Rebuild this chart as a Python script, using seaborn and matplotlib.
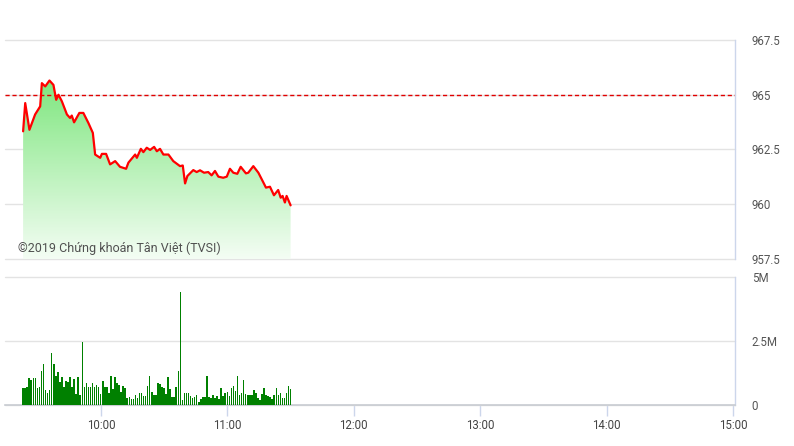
import numpy as np
import matplotlib
matplotlib.use("Agg")
import matplotlib.pyplot as plt
import seaborn as sns
import pandas as pd

# ---------------- data ----------------
# price: minutes since 09:00
price_minutes = [23.0, 24.0, 26.0, 28.7, 31.1, 31.9, 33.5, 35.5, 37.4, 38.7, 39.8, 41.4,
                 43.8, 45.3, 46.1, 47.2, 49.7, 51.6, 54.0, 56.1, 57.2, 59.6, 60.4, 62.4,
                 64.3, 66.7, 69.0, 71.9, 73.0, 76.2, 77.0, 78.9, 80.1, 81.7, 83.3, 85.2,
                 86.5, 88.0, 89.6, 92.0, 94.3, 97.5, 98.8, 99.9, 101.0, 103.8, 105.4, 107.0,
                 108.9, 110.9, 112.5, 114.1, 115.7, 118.0, 119.7, 121.2, 122.8, 124.7, 126.3,
                 128.8, 129.9, 132.3, 134.7, 136.3, 138.3, 140.2, 142.1, 144.1, 145.3, 146.2,
                 147.3, 148.1, 150.0]
price_values = [963.33, 964.62, 963.40, 964.10, 964.47, 965.53, 965.38, 965.65, 965.45, 964.77,
                965.00, 964.70, 964.10, 963.94, 964.05, 963.74, 964.17, 964.17, 963.71, 963.26,
                962.27, 962.12, 962.30, 962.30, 961.82, 961.97, 961.71, 961.62, 961.90, 962.27,
                962.12, 962.53, 962.38, 962.58, 962.48, 962.62, 962.42, 962.53, 962.27, 962.27,
                961.97, 961.74, 961.77, 960.95, 961.29, 961.56, 961.47, 961.55, 961.44, 961.47,
                961.32, 961.52, 961.26, 961.21, 961.26, 961.62, 961.44, 961.39, 961.71, 961.41,
                961.44, 961.74, 961.44, 961.14, 960.76, 960.80, 960.41, 960.65, 960.30, 960.38,
                960.08, 960.38, 959.95]
reference_price = 965.0

# volume (millions), one bar per minute 09:23 -> 11:30
volume_m = [0.68, 0.68, 0.72, 1.07, 0.98, 1.07, 1.07, 0.65, 0.72, 1.33, 1.60, 0.59, 0.48, 0.59,
            2.04, 1.60, 1.13, 1.30, 0.91, 1.11, 0.72, 0.94, 0.91, 1.11, 0.72, 1.00, 0.43, 1.11,
            0.39, 2.47, 0.72, 0.87, 0.72, 0.72, 0.85, 0.72, 0.78, 0.72, 0.43, 0.95, 0.72, 0.72,
            0.48, 1.13, 0.63, 1.11, 0.85, 0.78, 0.52, 0.74, 0.65, 0.26, 0.30, 0.22, 0.22, 0.39,
            0.29, 0.48, 0.48, 0.35, 0.35, 0.74, 1.13, 0.52, 0.39, 0.39, 0.85, 0.82, 0.69, 0.65,
            0.43, 1.11, 0.61, 0.30, 0.30, 0.72, 1.34, 4.43, 0.20, 0.46, 0.48, 0.46, 0.35, 0.26,
            0.30, 0.39, 0.13, 0.22, 0.30, 0.30, 1.13, 0.30, 0.26, 0.39, 0.26, 0.35, 0.22, 0.65,
            0.35, 0.48, 0.52, 0.35, 0.65, 0.74, 0.56, 1.13, 0.39, 0.48, 0.98, 0.42, 0.39, 0.39,
            0.39, 0.59, 0.48, 0.29, 0.20, 0.42, 0.65, 0.39, 0.35, 0.30, 0.22, 0.39, 0.65, 0.39,
            0.48, 0.29, 0.29, 0.48, 0.74, 0.61]
volume_start, volume_end = 23.0, 150.0

hour_ticks = [60, 120, 180, 240, 300, 360]
hour_labels = ["10:00", "11:00", "12:00", "13:00", "14:00", "15:00"]
price_ticks = [957.5, 960, 962.5, 965, 967.5]
price_labels = ["957.5", "960", "962.5", "965", "967.5"]
vol_ticks = [0, 2.5, 5]
vol_labels = ["0", "2.5M", "5M"]
watermark = "©2019 Chứng khoán Tân Việt (TVSI)"

# ---------------- style ----------------
sns.set_style("white")
plt.rcParams['font.family'] = ['Roboto', 'DejaVu Sans']

W, H = 794, 446
fig = plt.figure(figsize=(W / 100, H / 100), dpi=100)
left, right = 5, 735
ax1 = fig.add_axes([left / W, 1 - 259 / H, (right - left) / W, (259 - 40) / H])
ax2 = fig.add_axes([left / W, 1 - 405 / H, (right - left) / W, (405 - 277) / H])

xlim = (14.4, 361.0)
grid_c = "#e3e3e3"
axis_c = "#ccd6eb"
label_c = "#555555"

# ---- price panel ----
df = pd.DataFrame({"t": price_minutes, "p": price_values})
ymin, ymax = 957.5, 967.5
poly = ax1.fill_between(df["t"], df["p"], ymin, color="none", lw=0)
grad_n = 256
top_rgb = np.array([125, 230, 125]) / 255
bot_rgb = np.array([244, 253, 244]) / 255
levels = np.linspace(ymin, ymax, grad_n)
frac = np.clip((levels - ymin) / (965.8 - ymin), 0, 1)[:, None]
cols = bot_rgb + (top_rgb - bot_rgb) * frac
img = np.repeat(cols[:, None, :], 2, axis=1)
im = ax1.imshow(img, extent=[xlim[0], xlim[1], ymin, ymax], origin="lower",
                aspect="auto", zorder=1, interpolation="bilinear")
im.set_clip_path(poly.get_paths()[0], transform=ax1.transData)

sns.lineplot(data=df, x="t", y="p", ax=ax1, color="#ff0000", lw=1.6, zorder=4,
             estimator=None, sort=False)
ax1.axhline(reference_price, color="#e00000", lw=1.0, ls=(0, (3, 2)), zorder=3)

ax1.set_xlim(*xlim)
ax1.set_ylim(ymin, ymax)
ax1.set_yticks(price_ticks)
ax1.set_yticklabels(price_labels)
ax1.yaxis.tick_right()
ax1.tick_params(axis="y", length=0, pad=12, labelsize=8.3, labelcolor=label_c)
ax1.set_xticks([])
ax1.grid(axis="y", color=grid_c, lw=1, zorder=0)
ax1.set_axisbelow(True)
for s in ["top", "left", "bottom"]:
    ax1.spines[s].set_visible(False)
ax1.spines["right"].set_color(axis_c)
ax1.spines["right"].set_linewidth(1)
ax1.set_xlabel("")
ax1.set_ylabel("")
for gl in ax1.get_ygridlines():
    gl.set_clip_on(False)

ax1.text(18 / W, 1 - 248 / H, watermark, transform=fig.transFigure, fontsize=9,
         color="#505050", va="center", ha="left", zorder=6)

# ---- volume panel ----
vol_t = np.linspace(volume_start, volume_end, len(volume_m))
ax2.bar(vol_t, volume_m, width=0.75, color="#008000", linewidth=0, edgecolor="none",
        antialiased=False, zorder=3)
ax2.set_xlim(*xlim)
ax2.set_ylim(0, 5)
ax2.set_yticks(vol_ticks)
ax2.set_yticklabels(vol_labels)
ax2.yaxis.tick_right()
ax2.tick_params(axis="y", length=0, pad=12, labelsize=8.3, labelcolor=label_c)
ax2.set_xticks(hour_ticks)
ax2.set_xticklabels(hour_labels)
ax2.tick_params(axis="x", length=8, width=1, color=axis_c, pad=2, labelsize=8.3,
                labelcolor="#444444", bottom=True)
ax2.grid(axis="y", color=grid_c, lw=1, zorder=0)
ax2.set_axisbelow(True)
for s in ["top", "left"]:
    ax2.spines[s].set_visible(False)
ax2.spines["right"].set_color(axis_c)
ax2.spines["bottom"].set_color("#c8ccd2")
ax2.spines["right"].set_linewidth(1)
ax2.spines["bottom"].set_linewidth(1.2)
for gl in ax2.get_ygridlines():
    gl.set_clip_on(False)

fig.savefig("out.png", dpi=100)
